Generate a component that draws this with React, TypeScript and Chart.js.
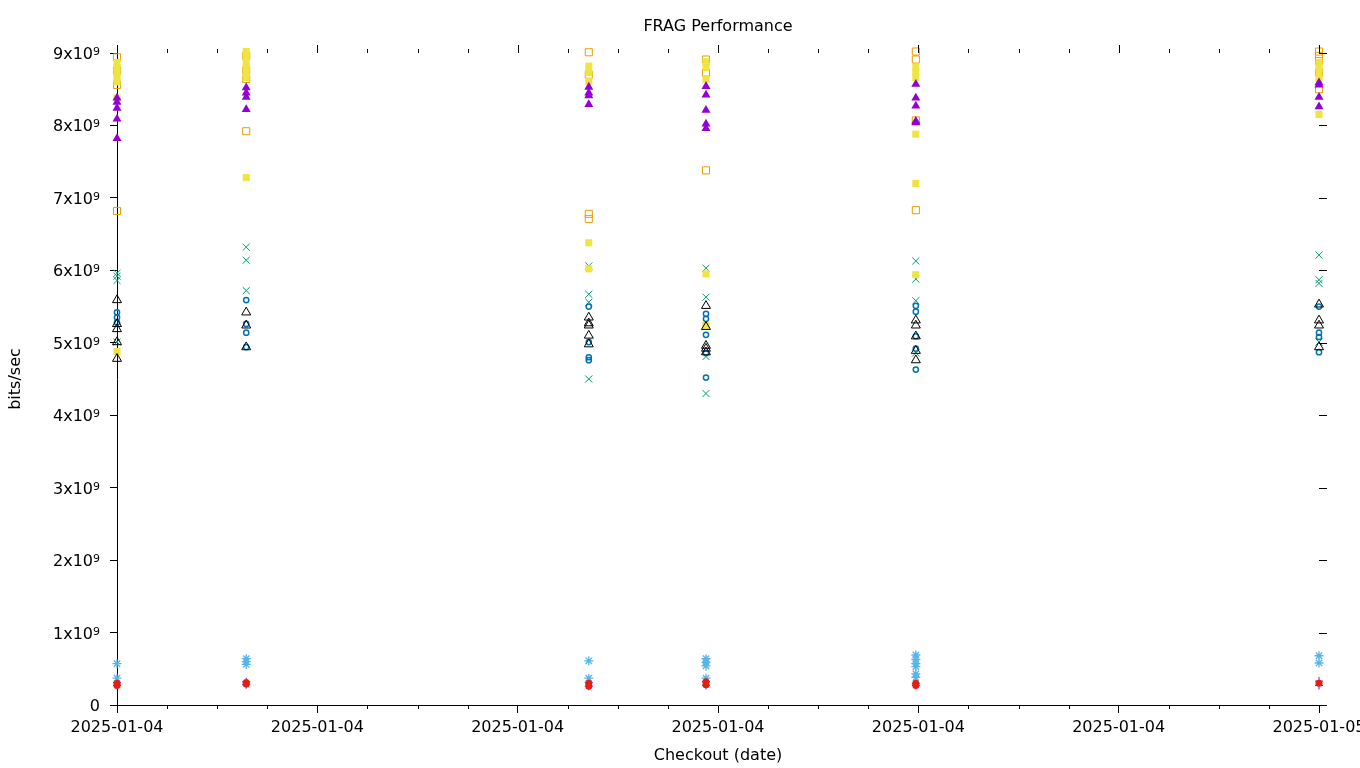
import React, { useEffect, useRef } from 'react';
import { Chart, registerables } from 'chart.js';

Chart.register(...registerables);

const TITLE = 'FRAG Performance';
const X_TITLE = 'Checkout (date)';
const Y_TITLE = 'bits/sec';

// checkout times, hours after 2025-01-04 00:00
const checkoutHours = [0, 2.58, 9.42, 11.76, 15.95, 24];

// x tick labels (every 4 hours)
const xTickLabels = ['2025-01-04', '2025-01-04', '2025-01-04', '2025-01-04', '2025-01-04', '2025-01-04', '2025-01-05'];
// y tick labels: mantissa and exponent (0 has no exponent)
const yTickMantissa = ['0', '1x10', '2x10', '3x10', '4x10', '5x10', '6x10', '7x10', '8x10', '9x10'];
const yTickExponent = ['', '9', '9', '9', '9', '9', '9', '9', '9', '9'];

// values in units of 1e9 bits/sec, one list per checkout
const purplePlus = [[0.31, 0.27], [0.32, 0.28], [0.31, 0.26], [0.32, 0.27], [0.30, 0.27], [0.33, 0.27]];
const tealCross = [[5.96, 5.92, 5.86, 5.01], [6.32, 6.14, 5.72], [6.06, 5.67, 5.56, 4.50], [6.03, 5.63, 4.81, 4.30], [6.13, 5.88, 5.58, 4.86], [6.21, 5.87, 5.82, 5.01]];
const blueStar = [[0.57, 0.37], [0.64, 0.60, 0.56], [0.61, 0.37], [0.64, 0.59, 0.54, 0.37], [0.69, 0.63, 0.57, 0.53, 0.43, 0.38], [0.68, 0.58]];
const orangeSquare = [[8.94, 8.76, 8.56, 6.82], [8.96, 8.76, 8.64, 7.92], [9.01, 8.70, 6.78, 6.71], [8.91, 8.73, 7.38], [9.02, 8.91, 8.07, 6.83], [9.02, 8.96, 8.89, 8.73, 8.50]];
const yellowSquare = [[8.87, 8.80, 8.72, 8.65, 8.60, 8.38, 4.88], [9.02, 8.95, 8.88, 8.80, 8.72, 8.66, 7.28], [8.82, 8.73, 8.61, 6.38, 6.02], [8.88, 8.80, 8.64, 5.95, 5.24], [8.80, 8.74, 8.66, 7.88, 7.20, 5.94], [8.87, 8.80, 8.72, 8.65, 8.15]];
const blueCircle = [[5.42, 5.35, 5.28], [5.59, 5.26, 5.14, 4.94], [5.50, 5.01, 4.80, 4.76], [5.40, 5.33, 5.11, 4.86, 4.52], [5.51, 5.43, 5.09, 4.92, 4.63], [5.50, 5.14, 5.08, 4.87]];
const redCircle = [[0.30, 0.27], [0.31, 0.29], [0.30, 0.26], [0.32, 0.28], [0.30, 0.27], [0.30]];
const blackTriangle = [[5.59, 5.26, 5.19, 5.01, 4.78], [5.42, 5.24, 4.94], [5.35, 5.27, 5.24, 5.10, 4.98], [5.51, 5.22, 4.96, 4.92, 4.87], [5.31, 5.24, 5.09, 4.89, 4.76], [5.53, 5.31, 5.24, 4.94]];
const purpleTriangle = [[8.38, 8.32, 8.24, 8.09, 7.82], [8.52, 8.45, 8.39, 8.22], [8.53, 8.45, 8.41, 8.29], [8.54, 8.42, 8.21, 8.02, 7.96], [8.57, 8.38, 8.27, 8.06, 8.04], [8.59, 8.56, 8.39, 8.26]];

const NONE = 'rgba(0,0,0,0)';

// gnuplot drawing order: first series at the bottom
const seriesList = [
  { label: 's1', values: purplePlus, style: 'cross', r: 4, border: '#9400D3', fill: NONE, bw: 1 },
  { label: 's2', values: tealCross, style: 'crossRot', r: 5, border: '#009E73', fill: NONE, bw: 1 },
  { label: 's3', values: blueStar, style: 'star', r: 4.5, border: '#56B4E9', fill: NONE, bw: 1.3 },
  { label: 's4', values: orangeSquare, style: 'rect', r: 5, border: '#E69F00', fill: NONE, bw: 1 },
  { label: 's5', values: yellowSquare, style: 'rect', r: 5, border: '#F0E442', fill: '#F0E442', bw: 0 },
  { label: 's6', values: blueCircle, style: 'circle', r: 2.6, border: '#0072B2', fill: NONE, bw: 1.5 },
  { label: 's7', values: redCircle, style: 'circle', r: 3.5, border: '#E51E10', fill: '#E51E10', bw: 0 },
  { label: 's8', values: blackTriangle, style: 'triangle', r: 5.2, border: '#000000', fill: NONE, bw: 1 },
  { label: 's9', values: purpleTriangle, style: 'triangle', r: 5.2, border: '#9400D3', fill: '#9400D3', bw: 0 },
];

const axisExtras = {
  id: 'axisExtras',
  afterDraw(chart: any) {
    const { ctx, chartArea: a, scales } = chart;
    const x = scales.x;
    const y = scales.y;
    ctx.save();
    ctx.strokeStyle = '#000';
    ctx.lineWidth = 1;
    ctx.beginPath();
    for (let h = 0; h <= 24; h++) {
      const px = Math.round(x.getPixelForValue(h)) + 0.5;
      const major = h % 4 === 0;
      if (!major) {
        ctx.moveTo(px, a.bottom);
        ctx.lineTo(px, a.bottom + 4);
      }
      ctx.moveTo(px, a.top);
      ctx.lineTo(px, a.top - (major ? 8 : 4));
    }
    for (let i = 0; i < yTickMantissa.length; i++) {
      const py = Math.round(y.getPixelForValue(i * 1e9)) + 0.5;
      ctx.moveTo(a.right, py);
      ctx.lineTo(a.right + 8, py);
    }
    ctx.stroke();

    ctx.fillStyle = '#000';
    ctx.textBaseline = 'alphabetic';
    // y tick labels with superscript exponent
    const labelRight = a.left - 17;
    for (let i = 0; i < yTickMantissa.length; i++) {
      const ty = y.getPixelForValue(i * 1e9);
      ctx.font = '11px "DejaVu Sans"';
      const exp = yTickExponent[i];
      const expW = exp ? ctx.measureText(exp).width : 0;
      ctx.textAlign = 'right';
      if (exp) ctx.fillText(exp, labelRight, ty + 2);
      ctx.font = '16px "DejaVu Sans"';
      ctx.fillText(yTickMantissa[i], labelRight - expW, ty + 6);
    }

    ctx.font = '16px "DejaVu Sans"';
    ctx.textAlign = 'center';
    ctx.fillText(TITLE, (a.left + a.right) / 2, 31);
    ctx.restore();
  },
};

export default function App() {
  const ref = useRef<HTMLCanvasElement>(null);
  useEffect(() => {
    Chart.defaults.font.family = '"DejaVu Sans"';
    Chart.defaults.font.size = 16;
    Chart.defaults.color = '#000';
    const datasets = seriesList
      .map((s) => ({
        label: s.label,
        data: s.values.flatMap((vals, i) => vals.map((v) => ({ x: checkoutHours[i], y: v * 1e9 }))),
        pointStyle: s.style,
        pointRadius: s.r,
        pointHoverRadius: s.r,
        borderColor: s.border,
        backgroundColor: s.fill,
        pointBorderWidth: s.bw,
        borderWidth: s.bw,
        clip: false,
      }))
      .reverse();
    const chart = new Chart(ref.current as HTMLCanvasElement, {
      type: 'scatter',
      data: { datasets } as any,
      plugins: [axisExtras],
      options: {
        animation: false,
        responsive: false,
        devicePixelRatio: 1,
        layout: { autoPadding: false, padding: { left: 0, top: 53, right: 41, bottom: 0 } },
        plugins: { legend: { display: false }, tooltip: { enabled: false }, title: { display: false } },
        scales: {
          x: {
            type: 'linear',
            min: 0,
            max: 24,
            afterFit: (s: any) => { s.height = 63; s.paddingLeft = 0; s.paddingRight = 0; },
            ticks: {
              stepSize: 4,
              autoSkip: false,
              maxRotation: 0,
              minRotation: 0,
              padding: 5,
              color: '#000',
              font: { size: 16 },
              callback: (_v: any, i: number) => xTickLabels[i],
            },
            grid: { display: true, drawOnChartArea: false, drawTicks: true, tickLength: 8, color: '#000', lineWidth: 1 },
            border: { display: true, color: '#000', width: 1 },
            title: { display: true, text: X_TITLE, color: '#000', font: { size: 16 }, padding: { top: 0, bottom: 3 } },
          },
          y: {
            type: 'linear',
            min: 0,
            max: 9e9,
            afterFit: (s: any) => { s.width = 117; s.paddingTop = 0; s.paddingBottom = 0; },
            ticks: {
              display: false,
              stepSize: 1e9,
              autoSkip: false,
            },
            grid: { display: true, drawOnChartArea: false, drawTicks: true, tickLength: 7, color: '#000', lineWidth: 1 },
            border: { display: true, color: '#000', width: 1 },
            title: { display: true, text: Y_TITLE, color: '#000', font: { size: 16 }, padding: { top: 6, bottom: 0 } },
          },
        },
      } as any,
    });
    return () => chart.destroy();
  }, []);
  return (
    <div style={{ position: 'fixed', left: 0, top: 0, width: 1360, height: 768, background: '#fff', overflow: 'hidden' }}>
      <canvas ref={ref} width={1360} height={768} style={{ width: 1360, height: 768, display: 'block' }} />
    </div>
  );
}
